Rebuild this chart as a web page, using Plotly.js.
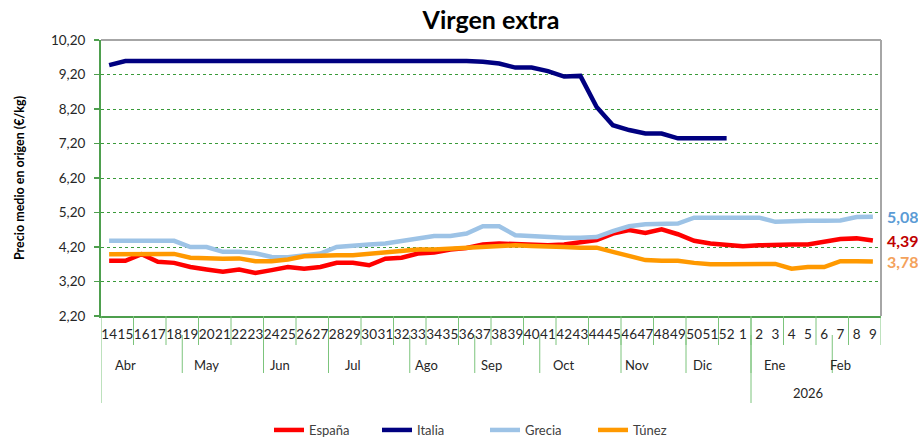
<!DOCTYPE html>
<html>
<head>
<meta charset="utf-8">
<script src="https://cdn.plot.ly/plotly-3.0.1.min.js"></script>
<style>html,body{margin:0;padding:0;background:#fff;}#chart{width:918px;height:437px;}</style>
</head>
<body>
<div id="chart"></div>
<script>
// ---- Data ----
const weekLabels = ['14','15','16','17','18','19','20','21','22','23','24','25','26','27','28','29','30','31','32','33','34','35','36','37','38','39','40','41','42','43','44','45','46','47','48','49','50','51','52','1','2','3','4','5','6','7','8','9'];
const monthNames = ['Abr','May','Jun','Jul','Ago','Sep','Oct','Nov','Dic','Ene','Feb'];
const monthWeekCounts = [5,5,4,5,4,4,5,4,4,5,3];
const yearNames = ['', '2026'];
const yearWeekCounts = [40, 8];

const espana = [3.80,3.80,3.99,3.77,3.74,3.62,3.55,3.48,3.55,3.45,3.53,3.62,3.57,3.62,3.74,3.74,3.67,3.86,3.89,4.01,4.04,4.13,4.17,4.27,4.30,4.28,4.25,4.25,4.27,4.35,4.40,4.59,4.69,4.61,4.71,4.57,4.38,4.30,4.25,4.22,4.25,4.27,4.27,4.27,4.35,4.43,4.45,4.39];
const italia = [9.47,9.59,9.59,9.59,9.60,9.60,9.60,9.60,9.60,9.61,9.61,9.61,9.61,9.61,9.61,9.61,9.61,9.61,9.61,9.61,9.61,9.60,9.59,9.57,9.52,9.40,9.40,9.30,9.14,9.16,8.26,7.73,7.59,7.49,7.49,7.35,7.35,7.35,7.35,null,null,null,null,null,null,null,null,null];
const grecia = [4.38,4.38,4.38,4.38,4.38,4.20,4.20,4.06,4.06,4.02,3.91,3.90,3.96,4.01,4.20,4.22,4.27,4.30,4.37,4.42,4.52,4.52,4.59,4.80,4.80,4.54,4.51,4.51,4.47,4.47,4.49,4.66,4.80,4.86,4.86,4.88,5.05,5.05,5.05,5.05,5.05,4.93,4.96,4.96,4.96,4.97,5.07,5.08];
const tunez = [3.99,4.00,4.01,4.00,4.00,3.89,3.86,3.86,3.87,3.79,3.79,3.84,3.93,3.96,3.96,3.96,4.01,4.03,4.08,4.13,4.13,4.16,4.18,4.20,4.25,4.25,4.23,4.23,4.20,4.18,4.18,4.06,3.93,3.82,3.80,3.80,3.74,3.70,3.70,3.70,3.70,3.71,3.57,3.62,3.62,3.79,3.79,3.78];

const seriesNames = ['España','Italia','Grecia','Túnez'];
const seriesData = [espana, italia, grecia, tunez];
const seriesColors = ['#FF0000','#000080','#9DC3E6','#FF9900'];
const labelColors = ['#C00000', null, '#5B9BD5', '#F4A25B'];

// ---- Layout helpers ----
const FONT = 'Lato, "Open Sans", sans-serif';
const W = 918, H = 437;
const plotLeft = 101, plotRight = 881;
const plotTop = 40, plotBottom = 316;
const plotH = plotBottom - plotTop;
const py = p => (plotBottom - p) / plotH; // pixel -> paper y
const n = weekLabels.length;

const traces = seriesNames.map((name, k) => ({
  type: 'scatter', mode: 'lines', name: name,
  x: weekLabels, y: seriesData[k],
  line: {color: seriesColors[k], width: 4.5},
  connectgaps: false,
  hoverinfo: 'x+y+name'
}));

const shapes = [];
const annotations = [];
const tickGreen = '#7CC47C';

// minor tick marks every 2 categories
for (let b = 2; b <= n; b += 2) {
  shapes.push({type:'line', xref:'x', yref:'paper', x0:b-0.5, x1:b-0.5, y0:0, y1:py(345), line:{color:tickGreen, width:1}});
}
// month dividers and labels
let start = 0;
monthNames.forEach((m, i) => {
  const end = start + monthWeekCounts[i];
  if (start > 0) {
    shapes.push({type:'line', xref:'x', yref:'paper', x0:start-0.5, x1:start-0.5, y0:py(335), y1:py(373), line:{color:tickGreen, width:1}});
  }
  annotations.push({xref:'x', yref:'paper', x:(start + end - 1)/2 - 1, y:py(365), text:m, showarrow:false,
    font:{family:FONT, size:13, color:'#262626'}, xanchor:'center', yanchor:'middle'});
  start = end;
});
// year dividers and labels
start = 0;
yearNames.forEach((yname, i) => {
  const end = start + yearWeekCounts[i];
  shapes.push({type:'line', xref:'x', yref:'paper', x0:start-0.5, x1:start-0.5, y0:0, y1:py(403), line:{color:tickGreen, width:1}});
  if (yname) {
    annotations.push({xref:'x', yref:'paper', x:(start + end - 1)/2 - 0.5, y:py(393), text:yname, showarrow:false,
      font:{family:FONT, size:13, color:'#262626'}, xanchor:'center', yanchor:'middle'});
  }
  start = end;
});
// top & right gray border
shapes.push({type:'line', xref:'paper', yref:'paper', x0:0, x1:1, y0:1, y1:1, line:{color:'#A6A6A6', width:2}});
shapes.push({type:'line', xref:'paper', yref:'paper', x0:1, x1:1, y0:0, y1:1, line:{color:'#A6A6A6', width:2}});

// end-value labels (x given as category index of the last week)
seriesData.forEach((arr, k) => {
  if (!labelColors[k]) return;
  const v = arr[arr.length - 1];
  annotations.push({xref:'x', yref:'y', x:n - 1, y:v, text:'<b>' + v.toFixed(2).replace('.', ',') + '</b>',
    showarrow:false, xanchor:'left', yanchor:'middle', xshift:12,
    font:{family:FONT, size:16, color:labelColors[k]}});
});

const layout = {
  width: W, height: H,
  margin: {l:plotLeft, r:W - plotRight, t:plotTop, b:H - plotBottom, pad:0, autoexpand:false},
  paper_bgcolor:'#ffffff', plot_bgcolor:'#ffffff',
  separators: ',.',
  font: {family: FONT, size: 13, color:'#262626'},
  title: {text:'<b>Virgen extra</b>', font:{family:FONT, size:25, color:'#000000'},
    xref:'paper', x:0.5, xanchor:'center', yref:'container', y:1 - 20/H, yanchor:'middle'},
  showlegend: true,
  legend: {orientation:'h', xref:'container', x:(269)/W, xanchor:'left', yref:'container', y:(H - 430)/H, yanchor:'middle',
    font:{family:FONT, size:13, color:'#404040'}, entrywidth:63, entrywidthmode:'pixels', bgcolor:'rgba(0,0,0,0)'},
  xaxis: {type:'category', range:[-0.5, n - 0.5], tickmode:'array', tickvals:weekLabels, ticktext:weekLabels,
    tickangle:0, ticks:'', ticklabelstandoff:5, showgrid:false, zeroline:false,
    showline:true, linecolor:'#4E9F4E', linewidth:2, fixedrange:true, automargin:false,
    tickfont:{family:FONT, size:13.5, color:'#262626'}},
  yaxis: {range:[2.2, 10.2], tick0:2.2, dtick:1, tickformat:'.2f', ticks:'outside', ticklen:5,
    tickcolor:'#4E9F4E', tickwidth:1.5, showline:true, linecolor:'#4E9F4E', linewidth:2, automargin:false,
    showgrid:true, gridcolor:'#3A9A3A', griddash:'dot', gridwidth:1, zeroline:false,
    ticklabelstandoff:6, tickfont:{family:FONT, size:13.5, color:'#262626'},
    title:{text:'<b>Precio medio en origen (€/kg)</b>', font:{family:FONT, size:12.5, color:'#000000'}, standoff:24}},
  shapes: shapes,
  annotations: annotations
};

Plotly.newPlot('chart', traces, layout, {displayModeBar:false, staticPlot:true});
</script>
</body>
</html>
